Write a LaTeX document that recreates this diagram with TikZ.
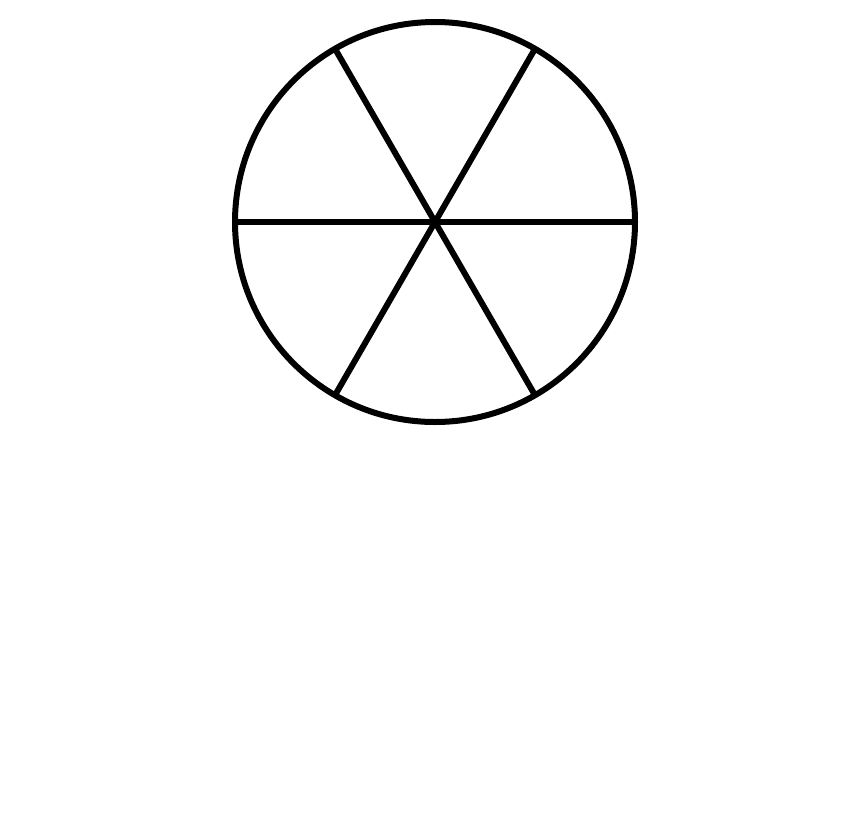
\documentclass[tikz,border=0pt]{standalone}
\usepackage{tikz}
\usetikzlibrary{positioning}
\tikzset{wheelline/.style={line width=0.06cm, black}}

\begin{document}
\begin{tikzpicture}
  \useasboundingbox (0,0) rectangle (8.63,8.36);
  \node[wheelline, draw, circle, minimum size=4cm, inner sep=0pt, outer sep=0pt] (wheel) at (4.35,6.14) {};
  \foreach \a in {0,60,...,300}
    \draw[wheelline] (wheel.center) -- (wheel.\a);
\end{tikzpicture}
\end{document}
